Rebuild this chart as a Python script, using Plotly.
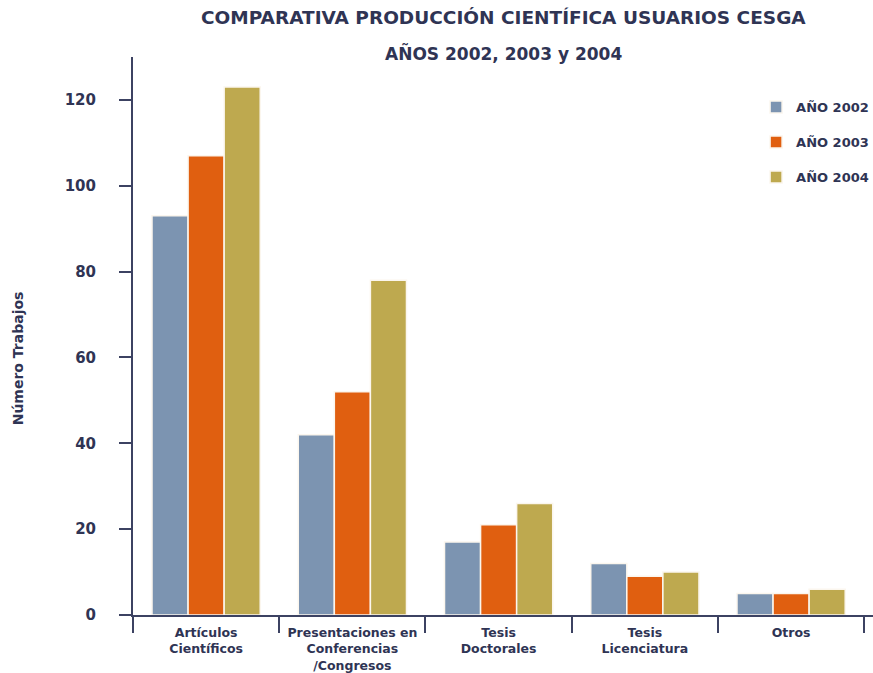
import plotly.graph_objects as go

categories = ["Artículos<br>Científicos",
              "Presentaciones en<br>Conferencias<br>/Congresos",
              "Tesis<br>Doctorales",
              "Tesis<br>Licenciatura",
              "Otros"]
series_names = ["AÑO 2002", "AÑO 2003", "AÑO 2004"]
values_2002 = [93, 42, 17, 12, 5]
values_2003 = [107, 52, 21, 9, 5]
values_2004 = [123, 78, 26, 10, 6]
y_tick_vals = [0, 20, 40, 60, 80, 100, 120]

colors = ["#7c94b1", "#e05f10", "#bea94f"]
text_color = "#2f3454"
axis_color = "#3c4262"
FONT = "DejaVu Sans, Verdana, sans-serif"

fig = go.Figure()
for i, (name, vals) in enumerate(zip(series_names, [values_2002, values_2003, values_2004])):
    fig.add_trace(go.Bar(
        x=categories, y=vals, name=name,
        legendgroup=name,
        marker=dict(color=colors[i], line=dict(color="#fbf6ee", width=1.5)),
    ))

fig.update_layout(
    width=873, height=673,
    margin=dict(l=133, r=0, t=57, b=58, autoexpand=False),
    paper_bgcolor="white", plot_bgcolor="white",
    barmode="group", bargap=0.26, bargroupgap=0,
    font=dict(family=FONT, color=text_color),
    showlegend=True,
    legend=dict(
        x=0.842, y=0.937, xanchor="left", yanchor="top",
        bgcolor="rgba(0,0,0,0)", borderwidth=0,
        font=dict(size=13, family=FONT, color=text_color, weight="bold"),
        traceorder="grouped", tracegroupgap=15,
    ),
    xaxis=dict(
        range=[-0.5, 4.56],
        showline=True, linecolor=axis_color, linewidth=2,
        ticks="outside", tickson="boundaries", ticklen=16, tickwidth=2, tickcolor=axis_color,
        ticklabelstandoff=5, tickangle=0,
        tickfont=dict(size=12.5, family=FONT, color=text_color, weight="bold"),
        showgrid=False, automargin=False,
    ),
    yaxis=dict(
        range=[0, 130], tickvals=y_tick_vals,
        showline=True, linecolor=axis_color, linewidth=2,
        ticks="outside", ticklen=12, tickwidth=2, tickcolor=axis_color,
        ticklabelstandoff=20,
        tickfont=dict(size=15, family=FONT, color=text_color, weight="bold"),
        showgrid=False, zeroline=False, automargin=False,
    ),
    annotations=[
        dict(text="COMPARATIVA PRODUCCIÓN CIENTÍFICA USUARIOS CESGA",
             xref="paper", yref="paper", x=0.5, y=1, yshift=40, xanchor="center", yanchor="middle",
             showarrow=False, font=dict(size=18.5, family=FONT, color=text_color, weight="bold")),
        dict(text="AÑOS 2002, 2003 y 2004",
             xref="paper", yref="paper", x=0.5, y=1, yshift=4, xanchor="center", yanchor="middle",
             showarrow=False, font=dict(size=17, family=FONT, color=text_color, weight="bold")),
        dict(text="Número Trabajos", textangle=-90,
             xref="paper", yref="paper", x=0, xshift=-115, y=0.46, xanchor="center", yanchor="middle",
             showarrow=False, font=dict(size=14, family=FONT, color=text_color, weight="bold")),
    ],
)

fig.write_html(
    "out.html",
    config={"displayModeBar": False},
    post_script="document.body.style.margin='0';document.body.style.overflow='hidden';",
)
